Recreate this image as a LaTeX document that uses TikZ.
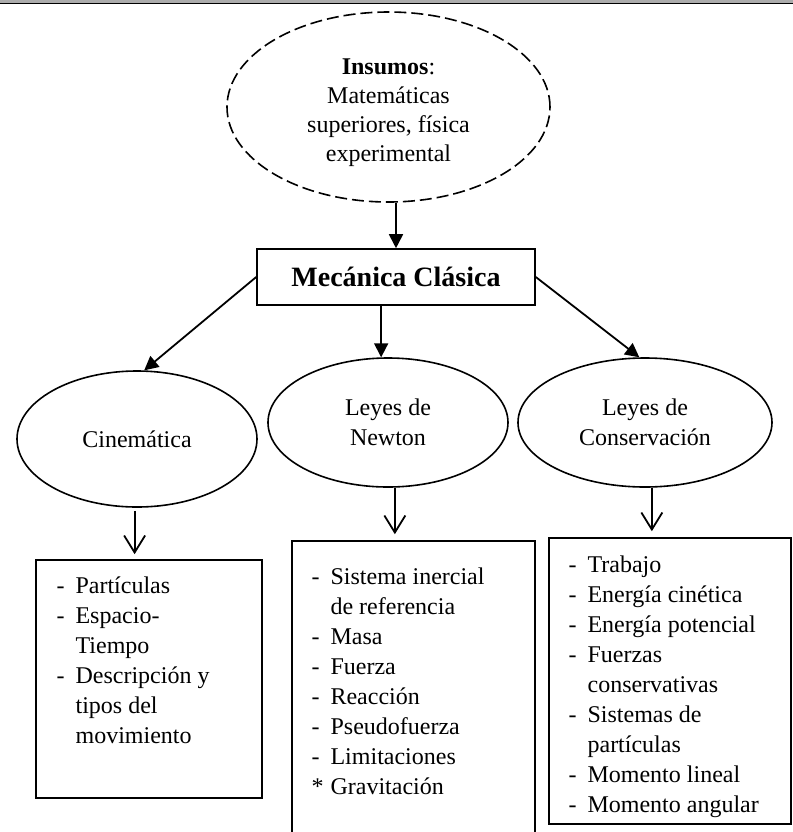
\documentclass[tikz,border=0pt]{standalone}
\usepackage{fontspec}
\setmainfont{Liberation Serif}
\usetikzlibrary{shapes.geometric,arrows.meta}

\begin{document}
\begin{tikzpicture}[x=0.5pt,y=0.5pt]
	\tikzstyle{every node}+=[inner sep=0pt, font=\fontsize{12}{15}\selectfont]
	\tikzstyle{oval}=[draw, ellipse, line width=0.8pt, align=center]
	\tikzstyle{listbox}=[draw, rectangle, line width=0.8pt]
	\tikzstyle{solidarrow}=[line width=0.9pt, -{Triangle[length=7pt,width=7pt]}]
	\tikzstyle{openarrow}=[line width=0.9pt, -{Straight Barb[length=8.5pt,width=10.5pt]}]
	\useasboundingbox (0,0) rectangle (793,-832);
	\clip (0,0) rectangle (793,-832);
	% page rule
	\fill [gray!65] (0,0) rectangle (793,-3);
	\draw [black, line width=0.7pt] (0,-3.6) -- (793,-3.6);
	% top
	\node [oval, dashed, dash pattern=on 6pt off 2.5pt, minimum width=161.5pt, minimum height=95pt, font=\fontsize{12}{14.5}\selectfont] (ins) at (388.5,-107) {\rule{0pt}{14pt}\textbf{Insumos}:\\ Matemáticas\\ superiores, física\\ experimental};
	\node [draw, rectangle, line width=0.8pt, minimum width=139pt, minimum height=28pt, font=\bfseries\fontsize{14}{16}\selectfont] (mec) at (396,-277) {Mecánica Clásica};
	% topics
	\node [oval, minimum width=120pt, minimum height=68pt] (cin) at (137,-439) {Cinemática};
	\node [oval, minimum width=120pt, minimum height=64.5pt] (new) at (388,-422.5) {Leyes de\\ Newton};
	\node [oval, minimum width=127pt, minimum height=64.5pt] (con) at (645,-422.5) {Leyes de\\ Conservación};
	% boxes
	\node [listbox, minimum width=113pt, minimum height=119pt] (cinbox) at (149,-679) {};
	\node [listbox, minimum width=121.5pt, minimum height=160pt] (newbox) at (413.5,-701) {};
	\node [listbox, minimum width=121pt, minimum height=143pt] (conbox) at (670,-681) {};
	\node [anchor=base west] (cinlist) at ([xshift=10.5pt,yshift=-17pt]cinbox.north west) {\begin{tabular}[t]{@{}p{9.5pt}@{}l@{}}
		- & Partículas\\
		- & Espacio-\\
		  & Tiempo\\
		- & Descripción y\\
		  & tipos del\\
		  & movimiento
	\end{tabular}};
	\node [anchor=base west] (newlist) at ([xshift=10pt,yshift=-22pt]newbox.north west) {\begin{tabular}[t]{@{}p{9.5pt}@{}l@{}}
		- & Sistema inercial\\
		  & de referencia\\
		- & Masa\\
		- & Fuerza\\
		- & Reacción\\
		- & Pseudofuerza\\
		- & Limitaciones\\
		{*} & Gravitación
	\end{tabular}};
	\node [anchor=base west] (conlist) at ([xshift=10pt,yshift=-17.5pt]conbox.north west) {\begin{tabular}[t]{@{}p{9.5pt}@{}l@{}}
		- & Trabajo\\
		- & Energía cinética\\
		- & Energía potencial\\
		- & Fuerzas\\
		  & conservativas\\
		- & Sistemas de\\
		  & partículas\\
		- & Momento lineal\\
		- & Momento angular
	\end{tabular}};
	% connectors
	\draw [solidarrow] (ins.south -| mec.north) -- (mec.north);
	\draw [solidarrow] (mec.west) -- (cin.84);
	\draw [solidarrow] (mec.south -| new.96) -- (new.96);
	\draw [solidarrow] (mec.east) -- (con.95);
	\draw [openarrow, shorten <=1.5pt, shorten >=2.5pt] (cin.-92) -- (cin.-92 |- cinbox.north);
	\draw [openarrow, shorten >=3pt] (new.-84) -- (new.-84 |- newbox.north);
	\draw [openarrow, shorten >=3pt] (con.-84) -- (con.-84 |- conbox.north);
\end{tikzpicture}
\end{document}
